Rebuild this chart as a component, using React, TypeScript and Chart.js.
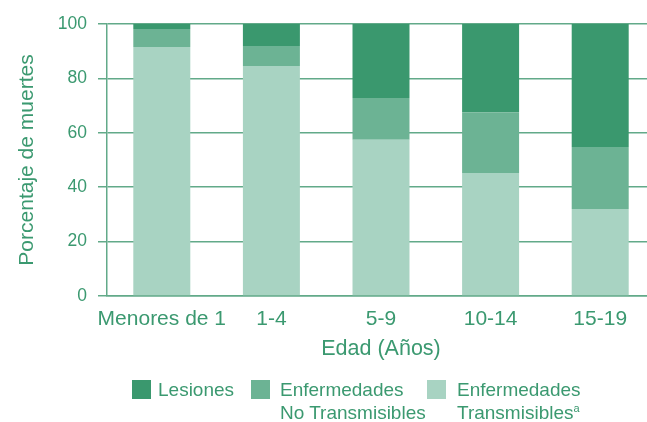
import React, { useEffect, useRef } from "react";
import { Chart, registerables } from "chart.js";

Chart.register(...registerables);

const categories = ["Menores de 1", "1-4", "5-9", "10-14", "15-19"];
const transmisibles = [91.5, 84.6, 57.4, 45.2, 32.0];
const noTransmisibles = [6.7, 7.3, 15.4, 22.4, 22.8];
const lesiones = [1.8, 8.1, 27.2, 32.4, 45.2];
const yTicks = [0, 20, 40, 60, 80, 100];

const DARK = "#3A986E";
const MID = "#6CB394";
const LIGHT = "#A8D3C2";
const TEXT = "#3B9970";
const GRID = "#62AA89";
const FONT = "'Liberation Sans', Arial, sans-serif";

export default function App() {
  const ref = useRef<HTMLCanvasElement | null>(null);

  useEffect(() => {
    if (!ref.current) return;
    const chart = new Chart(ref.current, {
      type: "bar",
      data: {
        labels: categories,
        datasets: [
          { label: "Enfermedades Transmisibles", data: transmisibles, backgroundColor: LIGHT },
          { label: "Enfermedades No Transmisibles", data: noTransmisibles, backgroundColor: MID },
          { label: "Lesiones", data: lesiones, backgroundColor: DARK },
        ],
      },
      options: {
        animation: false,
        responsive: false,
        devicePixelRatio: 1,
        layout: { padding: { top: 24, right: 0, bottom: 48, left: 0 } },
        plugins: { legend: { display: false }, tooltip: { enabled: false } },
        datasets: { bar: { barPercentage: 0.52, categoryPercentage: 1 } },
        scales: {
          x: {
            stacked: true,
            grid: { display: false, drawTicks: false },
            border: { display: true, color: GRID, width: 1.5 },
            ticks: { color: TEXT, font: { family: FONT, size: 21 }, padding: 11, maxRotation: 0, autoSkip: false },
            title: {
              display: true,
              text: "Edad (Años)",
              color: TEXT,
              font: { family: FONT, size: 21.5 },
              padding: { top: 0, bottom: 12 },
            },
            afterFit: (s: any) => {
              s.height = 78;
            },
          },
          y: {
            stacked: true,
            min: 0,
            max: 100,
            afterBuildTicks: (s: any) => {
              s.ticks = yTicks.map((v) => ({ value: v }));
            },
            grid: { color: GRID, lineWidth: 1.5, tickLength: 9, drawTicks: true },
            border: { display: true, color: GRID, width: 1.5 },
            ticks: { color: TEXT, font: { family: FONT, size: 17.5 }, padding: 11 },
            title: {
              display: true,
              text: "Porcentaje de muertes",
              color: TEXT,
              font: { family: FONT, size: 21 },
              padding: { top: 15, bottom: 0 },
            },
            afterFit: (s: any) => {
              s.width = 107;
            },
          },
        },
      },
    });
    return () => chart.destroy();
  }, []);

  const legendItems = [
    { color: DARK, box: 132, text: 158, lines: ["Lesiones"], sup: false },
    { color: MID, box: 251, text: 280, lines: ["Enfermedades", "No Transmisibles"], sup: false },
    { color: LIGHT, box: 427, text: 457, lines: ["Enfermedades", "Transmisibles"], sup: true },
  ];

  return (
    <div
      style={{
        position: "fixed",
        left: 0,
        top: 0,
        width: 655,
        height: 422,
        fontFamily: FONT,
        background: "#fff",
      }}
    >
      <canvas ref={ref} width={655} height={422} style={{ position: "absolute", left: 0, top: 0 }} />
      {legendItems.map((it, i) => (
        <React.Fragment key={i}>
          <div
            style={{
              position: "absolute",
              left: it.box,
              top: 380,
              width: 19,
              height: 19,
              background: it.color,
            }}
          />
          <div
            style={{
              position: "absolute",
              left: it.text,
              top: 378,
              fontSize: 19,
              lineHeight: "23px",
              color: TEXT,
              whiteSpace: "nowrap",
            }}
          >
            {it.lines.map((l, j) => (
              <div key={j}>
                {l}
                {it.sup && j === it.lines.length - 1 ? (
                  <span style={{ fontSize: 11, position: "relative", top: -7 }}>a</span>
                ) : null}
              </div>
            ))}
          </div>
        </React.Fragment>
      ))}
    </div>
  );
}
